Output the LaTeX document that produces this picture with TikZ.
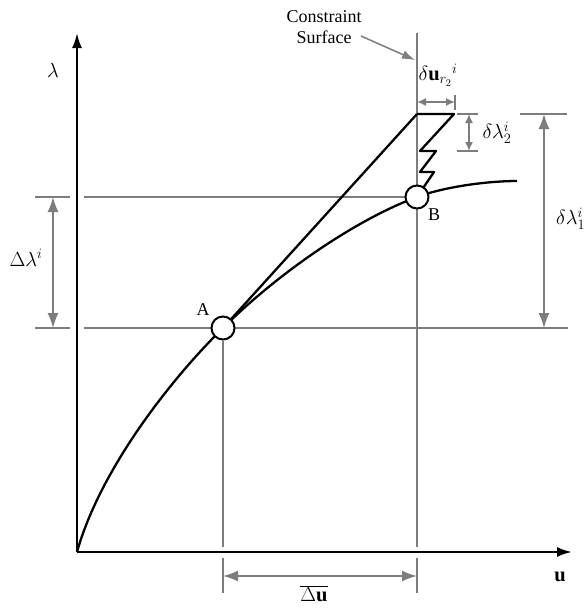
\documentclass[tikz,border=0pt]{standalone}
\usepackage{fontspec}
\usepackage{fix-cm}
\setmainfont{Liberation Serif}
\usetikzlibrary{arrows.meta}
\definecolor{guidegray}{RGB}{125,125,125}
\pgfdeclarelayer{background}
\pgfsetlayers{background,main}
\begin{document}
\begin{tikzpicture}[x=1pt,y=-1pt,
  axis/.style={line width=2.2pt, -{Latex[length=15pt,width=10pt]}},
  guide/.style={draw=guidegray, line width=1.8pt},
  dimbig/.style={draw=guidegray, line width=1.5pt, {Latex[length=15pt,width=11pt]}-{Latex[length=15pt,width=11pt]}},
  dimsmall/.style={draw=guidegray, line width=1.5pt, {Latex[length=9pt,width=8pt]}-{Latex[length=9pt,width=8pt]}},
  curvestyle/.style={line width=2.3pt, line join=round},
  pt/.style={circle, draw, fill=white, line width=2pt, minimum size=23pt, inner sep=0pt},
  lbl/.style={font=\fontsize{18}{21}\selectfont, inner sep=0pt},
  mlbl/.style={font=\fontsize{20.5}{23}\selectfont, inner sep=0pt}
]
\useasboundingbox (0,0) rectangle (586,608);
\clip (0,0) rectangle (586,608);

% points
\node[pt] (A) at (223,328) {};
\node[pt] (B) at (417,197) {};

\coordinate (O) at (77,552);
\coordinate (ytip) at (77,33);
\coordinate (xtip) at (572,552);
\coordinate (T) at (417,114);
\coordinate (E) at (517,181);

\begin{pgfonlayer}{background}
% guide lines
\draw[guide] (35,197) -- (70,197);
\draw[guide] (84,197) -- (B.west);
\draw[guide] (35,328) -- (70,328);
\draw[guide] (84,328) -- (568,328);
\draw[guide] (A.south) -- (223,547);
\draw[guide] (223,558) -- (223,593);
\draw[guide, line width=2.2pt] (417,33) -- (417,547);
\draw[guide, line width=2.2pt] (417,558) -- (417,593);
\draw[guide] (520,114) -- (567,114);
\draw[guide] (457,114) -- (478,114);
\draw[guide] (457,151) -- (478,151);
\draw[guide] (455,95) -- (455,110);

% curve
\draw[curvestyle] (O) .. controls (100,470) and (170,380) .. (A.center)
  .. controls (278,273) and (357,219) .. (B.center)
  .. controls (447,186) and (490,181) .. (E);
% tangent and zigzag
\draw[curvestyle] (A.center) -- (T);
\draw[curvestyle] (T) -- (454,114) -- (420,151) -- (436,151) -- (420,172) -- (434,172) -- (B.center);
\end{pgfonlayer}

% axes
\draw[axis] (O) -- (ytip);
\draw[axis] (O) -- (xtip);

% dimension arrows
\coordinate (dl1) at (53,197);
\coordinate (dl2) at (53,328);
\draw[dimbig] (dl1) -- (dl2);
\coordinate (du1) at (223,576);
\coordinate (du2) at (417,576);
\draw[dimbig] (du1) -- (du2);
\coordinate (dL1a) at (544,114);
\coordinate (dL1b) at (544,328);
\draw[dimbig] (dL1a) -- (dL1b);
\coordinate (dL2a) at (469,114);
\coordinate (dL2b) at (469,151);
\draw[dimsmall] (dL2a) -- (dL2b);
\coordinate (dur1) at (417,102);
\coordinate (dur2) at (455,102);
\draw[dimsmall] (dur1) -- (dur2);

% constraint surface label
\node[lbl, align=center] (cs) at (324,27) {Constraint\\Surface};
\coordinate (csend) at (415,60);
\draw[draw=guidegray, line width=1.5pt, -{Latex[length=13pt,width=9pt]}] (361,36) -- (csend);

% labels
\node[mlbl] (lam) at (53,70) {$\lambda$};
\node[mlbl] (dlam) at (26,258) {$\Delta\lambda^{i}$};
\node[lbl] (Alab) at (203,310) {A};
\node[lbl] (Blab) at (434,215) {B};
\node[mlbl] (ulab) at (560,577) {$\mathbf{u}$};
\node[mlbl] (dulab) at (314,594) {$\overline{\Delta\mathbf{u}}$};
\node[mlbl] (durlab) at (438,75) {$\delta\mathbf{u}_{r_2}{}^{i}$};
\node[mlbl] (dl2lab) at (497,133) {$\delta\lambda_2^{i}$};
\node[mlbl, anchor=west] (dl1lab) at (556,219) {$\delta\lambda_1^{i}$};
\end{tikzpicture}
\end{document}
